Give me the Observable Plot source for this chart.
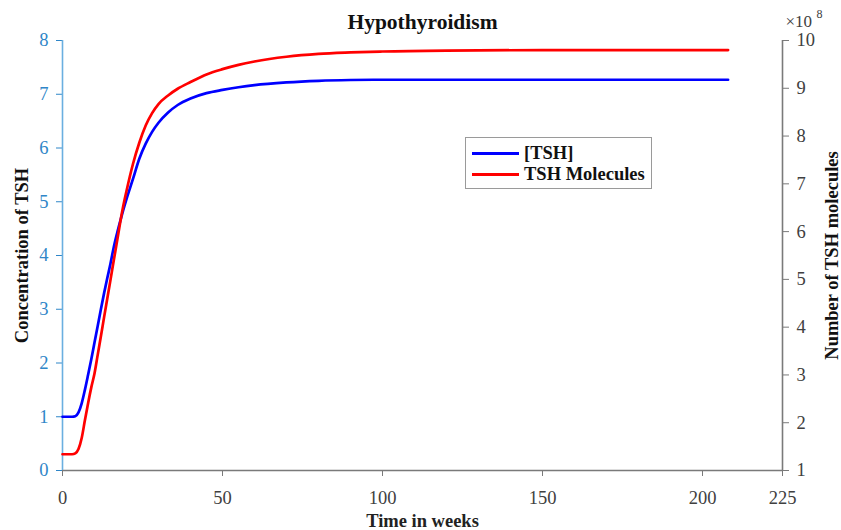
<!DOCTYPE html>
<html><head><meta charset="utf-8">
<script src="https://cdn.jsdelivr.net/npm/d3@7"></script>
<script src="https://cdn.jsdelivr.net/npm/@observablehq/plot@0.6"></script>
<style>
body{margin:0;background:#fff}
#wrap{position:relative;width:841px;height:530px}
#legend{position:absolute;left:465px;top:137px;width:185px;height:50px;border:1px solid #9a9a9a;background:#fff;font-family:"Liberation Serif",serif;font-weight:bold;font-size:18.5px;color:#111}
.row{position:absolute;left:6px;height:20px;display:flex;align-items:center}
.sw{width:47px;height:3px;margin-right:5px}
</style>
</head><body><div id="wrap"></div>
<script>
const title = "Hypothyroidism";
const xLabel = "Time in weeks";
const leftLabel = "Concentration of TSH";
const rightLabel = "Number of TSH molecules";
const seriesNames = ["[TSH]", "TSH Molecules"];
const seriesColors = ["#0000ff", "#ff0000"];
const weeks = [0,3,4,5,6,7,8,9,10,11,12,13,14,15,16,17,18,19,20,22,24,26,28,30,33,36,40,45,50,55,60,70,80,90,100,120,150,208];
const tshConc = [1,1,1.01,1.08,1.25,1.5,1.78,2.07,2.38,2.69,3.0,3.3,3.58,3.85,4.15,4.4,4.63,4.85,5.05,5.42,5.8,6.08,6.3,6.47,6.66,6.8,6.92,7.02,7.08,7.13,7.17,7.22,7.25,7.265,7.27,7.27,7.27,7.27];
// TSH molecules, in units of 10^8
const tshMolecules = [1.34,1.34,1.36,1.45,1.68,2.05,2.41,2.74,3.03,3.42,3.81,4.21,4.6,4.99,5.39,5.78,6.18,6.54,6.85,7.41,7.86,8.22,8.48,8.67,8.85,8.99,9.13,9.29,9.40,9.49,9.56,9.66,9.72,9.75,9.77,9.79,9.80,9.80];
const xTicks = [0,50,100,150,200,225];
const leftTicks = [0,1,2,3,4,5,6,7,8];
const rightTicks = [1,2,3,4,5,6,7,8,9,10];
const xDomain = [0,225];
const leftDomain = [0,8];
const rightDomain = [1,10];

const toLeft = v => leftDomain[0] + (v - rightDomain[0]) * (leftDomain[1]-leftDomain[0]) / (rightDomain[1]-rightDomain[0]);
const toRight = v => rightDomain[0] + (v - leftDomain[0]) * (rightDomain[1]-rightDomain[0]) / (leftDomain[1]-leftDomain[0]);

const conc = weeks.map((t,i) => ({t, v: tshConc[i]}));
const mol = weeks.map((t,i) => ({t, v: toLeft(tshMolecules[i])}));

const blueAxis = "#6aafe0", blueText = "#2f86c8", grayAxis = "#7a7a7a", grayText = "#404040";

const chart = Plot.plot({
  width: 841, height: 530,
  marginLeft: 62, marginRight: 59, marginTop: 40, marginBottom: 60,
  style: {fontFamily: "'Liberation Serif', serif", fontSize: "18.5px", background: "#fff", overflow: "visible"},
  x: {domain: xDomain},
  y: {domain: leftDomain},
  marks: [
    Plot.axisX({ticks: xTicks, tickSize: 6, tickPadding: 14, color: grayText, stroke: grayAxis, label: null, tickFormat: d => String(d)}),
    Plot.axisY({ticks: leftTicks, anchor: "left", tickSize: 6, tickPadding: 8, color: blueText, label: null, tickFormat: d => String(d)}),
    Plot.axisY({ticks: rightTicks.map(toLeft), anchor: "right", tickSize: 6, tickPadding: 8, color: grayText, stroke: grayAxis, label: null, tickFormat: d => String(Math.round(toRight(d)))}),
    Plot.ruleY([leftDomain[0]], {stroke: grayAxis, strokeWidth: 1.6}),
    Plot.ruleX([xDomain[1]], {stroke: grayAxis, strokeWidth: 1.6}),
    Plot.ruleX([xDomain[0]], {stroke: blueAxis, strokeWidth: 1.6}),
    Plot.line(conc, {x: "t", y: "v", stroke: seriesColors[0], strokeWidth: 2.7, curve: "monotone-x"}),
    Plot.line(mol, {x: "t", y: "v", stroke: seriesColors[1], strokeWidth: 2.7, curve: "monotone-x"}),
    Plot.text([title], {frameAnchor: "top", lineAnchor: "middle", dy: -18, fontWeight: "bold", fontSize: 21.5, fill: "#111"}),
    Plot.text([xLabel], {frameAnchor: "bottom", lineAnchor: "middle", dy: 51, fontWeight: "bold", fontSize: 18.5, fill: "#222"}),
    Plot.text([leftLabel], {frameAnchor: "left", textAnchor: "middle", lineAnchor: "middle", dx: -40, rotate: -90, fontWeight: "bold", fontSize: 18.5, fill: "#111"}),
    Plot.text([rightLabel], {frameAnchor: "right", textAnchor: "middle", lineAnchor: "middle", dx: 50, rotate: -90, fontWeight: "bold", fontSize: 18.5, fill: "#111"}),
    Plot.text(["×10"], {frameAnchor: "top-right", lineAnchor: "middle", dx: 3, dy: -19, textAnchor: "start", fontSize: 17, fill: grayText}),
    Plot.text(["8"], {frameAnchor: "top-right", lineAnchor: "middle", dx: 34, dy: -26, textAnchor: "start", fontSize: 12, fill: grayText})
  ]
});
const wrap = document.getElementById("wrap");
wrap.appendChild(chart);
const legend = document.createElement("div");
legend.id = "legend";
seriesNames.forEach((name, i) => {
  const row = document.createElement("div");
  row.className = "row";
  row.style.top = (5 + i*21) + "px";
  const sw = document.createElement("div");
  sw.className = "sw";
  sw.style.background = seriesColors[i];
  const tx = document.createElement("span");
  tx.textContent = name;
  row.appendChild(sw); row.appendChild(tx);
  legend.appendChild(row);
});
wrap.appendChild(legend);
</script>
</body></html>
